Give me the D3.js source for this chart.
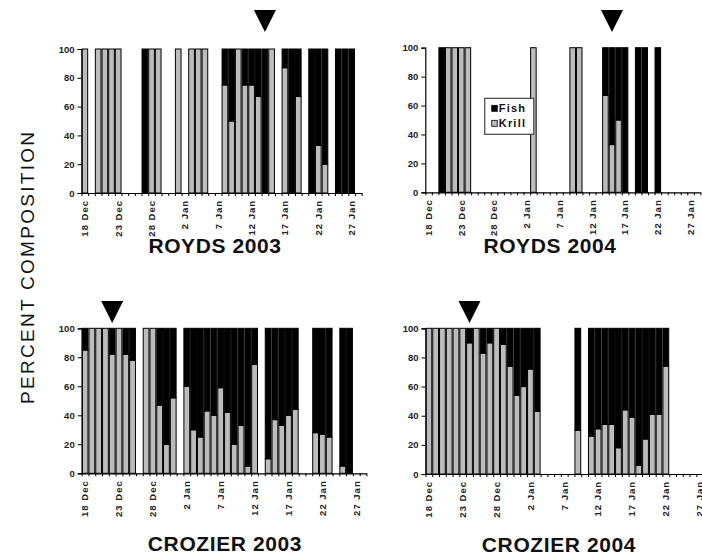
<!DOCTYPE html>
<html>
<head>
<meta charset="utf-8">
<script src="https://cdn.jsdelivr.net/npm/d3@7"></script>
<style>
  body { margin: 0; background: #fff; }
  svg { display: block; }
</style>
</head>
<body>
<div id="chart"></div>
<script>
// one category per day, 18 Dec - 28 Jan
const days = [
  '18 Dec', '19 Dec', '20 Dec', '21 Dec', '22 Dec', '23 Dec', '24 Dec', '25 Dec', '26 Dec',
  '27 Dec', '28 Dec', '29 Dec', '30 Dec', '31 Dec', '1 Jan', '2 Jan', '3 Jan', '4 Jan',
  '5 Jan', '6 Jan', '7 Jan', '8 Jan', '9 Jan', '10 Jan', '11 Jan', '12 Jan', '13 Jan',
  '14 Jan', '15 Jan', '16 Jan', '17 Jan', '18 Jan', '19 Jan', '20 Jan', '21 Jan', '22 Jan',
  '23 Jan', '24 Jan', '25 Jan', '26 Jan', '27 Jan', '28 Jan',
];
const tickDays = ['18 Dec', '23 Dec', '28 Dec', '2 Jan', '7 Jan', '12 Jan', '17 Jan', '22 Jan', '27 Jan'];
const yTicks = [0, 20, 40, 60, 80, 100];

// [day, % krill]; the rest of the diet is fish
const royds2003 = [
  ['18 Dec', 100], ['20 Dec', 100], ['21 Dec', 100], ['22 Dec', 100], ['23 Dec', 100],
  ['27 Dec', 0], ['28 Dec', 100], ['29 Dec', 100], ['1 Jan', 100], ['3 Jan', 100],
  ['4 Jan', 100], ['5 Jan', 100], ['8 Jan', 75], ['9 Jan', 50], ['10 Jan', 100],
  ['11 Jan', 75], ['12 Jan', 75], ['13 Jan', 67], ['14 Jan', 0], ['15 Jan', 100],
  ['17 Jan', 87], ['18 Jan', 0], ['19 Jan', 67], ['21 Jan', 0], ['22 Jan', 33],
  ['23 Jan', 20], ['25 Jan', 0], ['26 Jan', 0], ['27 Jan', 0],
];
const royds2004 = [
  ['20 Dec', 0], ['21 Dec', 100], ['22 Dec', 100], ['23 Dec', 100], ['24 Dec', 100],
  ['3 Jan', 100], ['9 Jan', 100], ['10 Jan', 100], ['14 Jan', 67], ['15 Jan', 33],
  ['16 Jan', 50], ['17 Jan', 0], ['19 Jan', 0], ['20 Jan', 0], ['22 Jan', 0],
];
const crozier2003 = [
  ['18 Dec', 85], ['19 Dec', 100], ['20 Dec', 100], ['21 Dec', 100], ['22 Dec', 82],
  ['23 Dec', 100], ['24 Dec', 82], ['25 Dec', 78], ['27 Dec', 100], ['28 Dec', 100],
  ['29 Dec', 47], ['30 Dec', 20], ['31 Dec', 52], ['2 Jan', 60], ['3 Jan', 30],
  ['4 Jan', 25], ['5 Jan', 43], ['6 Jan', 40], ['7 Jan', 59], ['8 Jan', 42],
  ['9 Jan', 20], ['10 Jan', 33], ['11 Jan', 5], ['12 Jan', 75], ['14 Jan', 10],
  ['15 Jan', 37], ['16 Jan', 33], ['17 Jan', 40], ['18 Jan', 44], ['21 Jan', 28],
  ['22 Jan', 27], ['23 Jan', 25], ['25 Jan', 5], ['26 Jan', 0],
];
const crozier2004 = [
  ['18 Dec', 100], ['19 Dec', 100], ['20 Dec', 100], ['21 Dec', 100], ['22 Dec', 100],
  ['23 Dec', 100], ['24 Dec', 90], ['25 Dec', 100], ['26 Dec', 83], ['27 Dec', 90],
  ['28 Dec', 100], ['29 Dec', 89], ['30 Dec', 74], ['31 Dec', 54], ['1 Jan', 60],
  ['2 Jan', 72], ['3 Jan', 43], ['9 Jan', 30], ['11 Jan', 26], ['12 Jan', 31],
  ['13 Jan', 34], ['14 Jan', 34], ['15 Jan', 18], ['16 Jan', 44], ['17 Jan', 39],
  ['18 Jan', 6], ['19 Jan', 24], ['20 Jan', 41], ['21 Jan', 41], ['22 Jan', 74],
];
// day marked by the arrow above each panel
const arrowDays = ['14 Jan', '15 Jan', '22 Dec', '24 Dec'];
const legendKeys = ['Fish', 'Krill'];

const font = "'Liberation Sans', Arial, sans-serif";
const krillColor = '#bcbcbc';

const panels = [
  {
    title: 'ROYDS 2003', data: royds2003, arrow: arrowDays[0],
    x0: 81.5, dayW: 6.67, yTop: 49, yBase: 193, arrowY: 32, titleX: 215, titleY: 253,
  },
  {
    title: 'ROYDS 2004', data: royds2004, arrow: arrowDays[1],
    x0: 425.3, dayW: 6.55, yTop: 47.7, yBase: 192.3, arrowY: 32, titleX: 550, titleY: 253, legend: true,
  },
  {
    title: 'CROZIER 2003', data: crozier2003, arrow: arrowDays[2],
    x0: 81.7, dayW: 6.78, yTop: 328.3, yBase: 473.3, arrowY: 323, titleX: 225, titleY: 551,
  },
  {
    title: 'CROZIER 2004', data: crozier2004, arrow: arrowDays[3],
    x0: 425.5, dayW: 6.77, yTop: 328.3, yBase: 474, arrowY: 323, titleX: 559, titleY: 552,
  },
];

const svg = d3.select('#chart').append('svg').attr('width', 702).attr('height', 556)
  .style('font-family', font);

svg.append('text')
  .attr('transform', 'translate(34, 268) rotate(-90)')
  .attr('text-anchor', 'middle')
  .attr('font-size', 19)
  .attr('textLength', 272)
  .attr('lengthAdjust', 'spacing')
  .attr('fill', '#111')
  .text('PERCENT COMPOSITION');

const drawPanel = (p) => {
  const g = svg.append('g');
  const x = d3.scaleBand()
    .domain(days)
    .range([p.x0, p.x0 + days.length * p.dayW]);
  const xEdge = d3.scaleLinear().domain([0, days.length]).range(x.range());
  const y = d3.scaleLinear().domain([0, 100]).range([p.yBase, p.yTop]);

  const rows = p.data.map(([day, krill]) => ({ day, krill, fish: 100 - krill }));
  const stacked = d3.stack().keys(['krill', 'fish'])(rows);

  g.selectAll('g.layer')
    .data(stacked)
    .join('g')
    .attr('fill', (d) => (d.key === 'krill' ? krillColor : '#000'))
    .selectAll('rect')
    .data((d) => d.filter((s) => s[1] > s[0]))
    .join('rect')
    .attr('x', (d) => x(d.data.day) + 0.5)
    .attr('width', x.bandwidth() - 1)
    .attr('y', (d) => y(d[1]))
    .attr('height', (d) => y(d[0]) - y(d[1]))
    .attr('stroke', '#000')
    .attr('stroke-width', 1);

  // y axis
  const yAxis = g.append('g')
    .attr('transform', `translate(${p.x0}, 0)`)
    .call(d3.axisLeft(y).tickValues(yTicks).tickSize(4).tickPadding(3));
  yAxis.select('.domain').attr('stroke', '#000').attr('stroke-width', 1.2);
  yAxis.selectAll('.tick line').attr('stroke', '#000');
  yAxis.selectAll('text')
    .attr('font-family', font)
    .attr('font-size', 9.5)
    .attr('font-weight', 'bold')
    .attr('fill', '#222');

  // x axis: a tick on every day boundary, labels every five days
  const xAxis = g.append('g')
    .attr('transform', `translate(0, ${p.yBase})`)
    .call(d3.axisBottom(xEdge).tickValues(d3.range(days.length + 1)).tickFormat('').tickSize(3).tickSizeOuter(0));
  xAxis.select('.domain').attr('stroke', '#000').attr('stroke-width', 1.2);
  xAxis.selectAll('.tick line').attr('stroke', '#000');

  g.selectAll('text.day')
    .data(tickDays)
    .join('text')
    .attr('class', 'day')
    .attr('transform', (d) => `translate(${x(d) + x.bandwidth() / 2}, ${p.yBase + 7}) rotate(-90)`)
    .attr('text-anchor', 'end')
    .attr('dy', '0.35em')
    .attr('font-size', 9.5)
    .attr('font-weight', 'bold')
    .attr('letter-spacing', 1)
    .attr('fill', '#222')
    .text((d) => d);

  // arrow
  const ax = x(p.arrow) + x.bandwidth() / 2;
  g.append('path')
    .attr('d', d3.line()([[ax - 11, p.arrowY - 22], [ax + 11, p.arrowY - 22], [ax, p.arrowY]]) + 'Z')
    .attr('fill', '#000');

  g.append('text')
    .attr('x', p.titleX)
    .attr('y', p.titleY)
    .attr('text-anchor', 'middle')
    .attr('font-size', 21)
    .attr('font-weight', 'bold')
    .attr('letter-spacing', 0.6)
    .attr('fill', '#111')
    .text(p.title);

  if (p.legend) {
    const lg = g.append('g').attr('transform', `translate(${x('27 Dec') + 0.5}, ${y(65)})`);
    lg.append('rect')
      .attr('width', 49)
      .attr('height', 36)
      .attr('fill', '#fff')
      .attr('stroke', '#444')
      .attr('stroke-width', 1.2);
    legendKeys.forEach((k, i) => {
      lg.append('rect')
        .attr('x', 7)
        .attr('y', 7 + i * 15)
        .attr('width', 5.5)
        .attr('height', 6)
        .attr('fill', k === 'Fish' ? '#000' : krillColor)
        .attr('stroke', '#000')
        .attr('stroke-width', 0.8);
      lg.append('text')
        .attr('x', 14)
        .attr('y', 13.5 + i * 15)
        .attr('font-size', 11)
        .attr('font-weight', 'bold')
        .attr('letter-spacing', 1.2)
        .attr('fill', '#111')
        .text(k);
    });
  }
};

panels.forEach(drawPanel);
</script>
</body>
</html>
